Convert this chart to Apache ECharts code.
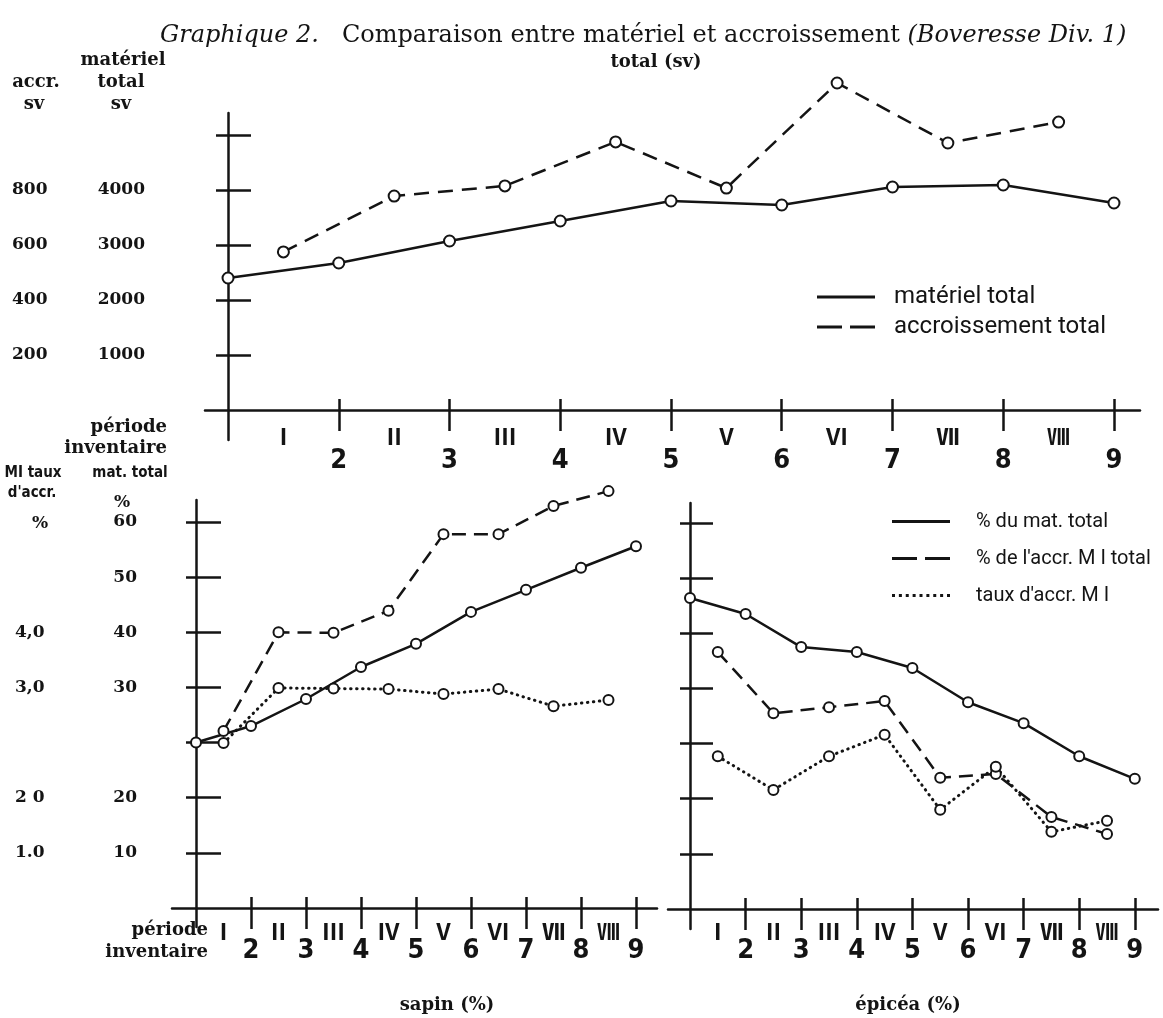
<!DOCTYPE html>
<html><head><meta charset="utf-8">
<script src="https://cdn.jsdelivr.net/npm/echarts@6/dist/echarts.min.js"></script>
<style>html,body{margin:0;padding:0;background:#fff}#c{width:1163px;height:1018px}</style>
</head><body><div id="c"></div>
<script>
// ---------------- data ----------------
const periods = [1, 2, 3, 4, 5, 6, 7, 8, 9];
const periodLabels = ['1', '2', '3', '4', '5', '6', '7', '8', '9'];
const romanPositions = [1.5, 2.5, 3.5, 4.5, 5.5, 6.5, 7.5, 8.5];
const romanLabels = ['Ⅰ', 'Ⅱ', 'Ⅲ', 'Ⅳ', 'Ⅴ', 'Ⅵ', 'Ⅶ', 'Ⅷ'];
const labelledPeriods = [2, 3, 4, 5, 6, 7, 8, 9];

// top chart (sv)
const materielTotal = [2400, 2673, 3073, 3436, 3800, 3727, 4055, 4091, 3764];
const accroissementTotal = [575, 778, 815, 975, 807, 1189, 971, 1047];
const topMatTicks = [1000, 2000, 3000, 4000, 5000];
const topMatLabelValues = [1000, 2000, 3000, 4000];
const topMatLabels = ['1000', '2000', '3000', '4000'];
const topAccrTicks = [200, 400, 600, 800, 1000];
const topAccrLabelValues = [200, 400, 600, 800];
const topAccrLabels = ['200', '400', '600', '800'];

// sapin (%)
const sapinMat = [20.0, 23.0, 27.9, 33.7, 37.9, 43.7, 47.7, 51.7, 55.6];
const sapinAccrMI = [22.1, 40.0, 39.9, 43.9, 57.8, 57.8, 62.9, 65.6];
const sapinTaux = [1.99, 2.99, 2.98, 2.97, 2.88, 2.97, 2.66, 2.77];
// épicéa (%)
const epiceaMat = [46.4, 43.5, 37.5, 36.6, 33.7, 27.5, 23.7, 17.7, 13.6];
const epiceaAccrMI = [36.6, 25.5, 26.6, 27.7, 13.8, 14.5, 6.7, 3.6];
const epiceaTaux = [1.77, 1.16, 1.77, 2.16, 0.80, 1.58, 0.40, 0.60];

// bottom axes (printed tick labels)
const pctTicks = [0, 10, 20, 30, 40, 50, 60];
const pctTickLabels = ['10', '20', '', '30', '40', '50', '60'];
const tauxTicks = [0, 1, 2, 3, 4, 5, 6];
const tauxTickLabels = ['1.0', '2 0', '', '3,0', '4,0', '', ''];

// ---------------- styling ----------------
const BLACK = '#141414';
const LW = 2.5;
const numFont = {fontFamily: '"DejaVu Serif", serif', fontWeight: 'bold', fontSize: 17, color: BLACK};
const arabicFont = {fontFamily: '"Liberation Sans Narrow", "DejaVu Sans Condensed", sans-serif', fontWeight: 'bold', fontSize: 27, color: BLACK};
const romanFont = {fontFamily: '"Noto Sans CJK JP", "Noto Sans CJK SC", "DejaVu Serif", serif', fontWeight: 'bold', fontSize: 23, color: BLACK};
const tickLine = {color: BLACK, width: LW};

function xPair(grid, min, max, offset, lenOut, lenIn, arabicMargin, romanMargin) {
  return [
    {gridIndex: grid, type: 'value', min, max, position: 'bottom', offset,
      axisLine: {show: true, onZero: false, lineStyle: tickLine},
      axisTick: {show: true, length: lenOut, customValues: labelledPeriods, lineStyle: tickLine},
      axisLabel: {show: true, customValues: labelledPeriods, margin: arabicMargin, verticalAlign: 'middle',
        formatter: v => periodLabels[periods.indexOf(v)], ...arabicFont},
      splitLine: {show: false}},
    {gridIndex: grid, type: 'value', min, max, position: 'bottom', offset,
      axisLine: {show: false, onZero: false},
      axisTick: {show: true, inside: true, length: lenIn, customValues: labelledPeriods, lineStyle: tickLine},
      axisLabel: {show: true, customValues: romanPositions, margin: romanMargin, verticalAlign: 'middle',
        formatter: v => romanLabels[romanPositions.indexOf(v)], ...romanFont},
      splitLine: {show: false}}
  ];
}

function yPair(grid, min, max, k, offset, lenOut, lenIn, aTicks, aLabelVals, aLabel, aMargin, bTicks, bLabelVals, bLabel, bMargin) {
  return [
    {gridIndex: grid, type: 'value', min, max, position: 'left', offset,
      axisLine: {show: true, onZero: false, lineStyle: tickLine},
      axisTick: {show: true, length: lenOut, customValues: aTicks, lineStyle: tickLine},
      axisLabel: {show: !!aLabel, customValues: aLabelVals, margin: aMargin, align: 'right', formatter: aLabel || (() => ''), ...numFont},
      splitLine: {show: false}},
    {gridIndex: grid, type: 'value', min: min / k, max: max / k, position: 'left', offset,
      axisLine: {show: false, onZero: false},
      axisTick: {show: true, inside: true, length: lenIn, customValues: bTicks, lineStyle: tickLine},
      axisLabel: {show: !!bLabel, customValues: bLabelVals, margin: bMargin, align: 'left', formatter: bLabel || (() => ''), ...numFont},
      splitLine: {show: false}}
  ];
}

function line(name, xi, yi, xs, ys, type, size, extra) {
  return Object.assign({
    type: 'line', name, xAxisIndex: xi, yAxisIndex: yi,
    data: xs.map((x, i) => [x, ys[i]]),
    symbol: 'circle', symbolSize: size, clip: false, silent: true, z: 5,
    lineStyle: {color: BLACK, width: LW, type},
    itemStyle: {color: '#fff', borderColor: BLACK, borderWidth: 2},
    emphasis: {disabled: true}
  }, extra || {});
}

const DASH_TOP = [15, 9];
const DASH_BOT = [14, 8];
const DOT = [0.5, 5.5];
const dotted = {lineStyle: {color: BLACK, width: 3, type: DOT, cap: 'round'}};

const pctLabel = v => pctTickLabels[pctTicks.indexOf(Math.round(v))];
const tauxLabel = v => tauxTickLabels[tauxTicks.indexOf(Math.round(v))];

// legend icons
const solidIcon = 'path://M0,0h58v3h-58z';
const dashIcon = 'path://M0,0h25v3h-25zM33,0h25v3h-25z';
let dotPath = 'path://';
for (let i = 0; i < 9; i++) dotPath += 'M' + (i * 6.875) + ',0h3v3h-3z';
const dotIcon = dotPath;

const legendText = {fontFamily: 'Roboto, "DejaVu Sans Condensed", sans-serif', color: BLACK};

const xAxes = [
  ...xPair(0, 0.792, 9.235, -30, 21, 11, 51, 26),
  ...xPair(1, 0.5636, 9.382, -19, 21, 11, 43, 23),
  ...xPair(2, 0.6043, 9.417, -20, 21, 11, 42, 22)
];
const yAxes = [
  ...yPair(0, -545, 5400, 5, -23, 12, 23,
    topMatTicks, topMatLabelValues, v => topMatLabels[topMatLabelValues.indexOf(v)], 83,
    topAccrTicks, topAccrLabelValues, v => topAccrLabels[topAccrLabelValues.indexOf(v)], 216),
  ...yPair(1, -13.45, 63.99, 10, -24, 10, 25,
    pctTicks, pctTicks, pctLabel, 59,
    tauxTicks, tauxTicks, tauxLabel, 181),
  ...yPair(2, -13.63, 63.63, 10, -22, 10, 23,
    pctTicks, [], null, 0,
    tauxTicks, [], null, 0)
];

function txt(text, x, y, font, align, extra) {
  return Object.assign({type: 'text', silent: true, style: {text, x, y, font, fill: BLACK,
    textAlign: align || 'center', textVerticalAlign: 'middle'}}, extra || {});
}
const serifB = 'bold 18px "DejaVu Serif", serif';
const condB = 'bold 15px "DejaVu Sans Condensed", sans-serif';

const option = {
  backgroundColor: '#fff',
  animation: false,
  title: {
    text: '{i|Graphique 2.}   Comparaison entre matériel et accroissement {i|(Boveresse Div. 1)}',
    left: 155, top: 19,
    textStyle: {fontFamily: '"DejaVu Serif", serif', fontSize: 24, fontWeight: 'normal', color: BLACK,
      rich: {i: {fontFamily: '"DejaVu Serif", serif', fontStyle: 'italic', fontSize: 24, color: BLACK}}}
  },
  grid: [
    {left: 205, top: 113, width: 935, height: 327},
    {left: 172, top: 500, width: 485, height: 427},
    {left: 668, top: 503, width: 490, height: 426}
  ],
  xAxis: xAxes,
  yAxis: yAxes,
  legend: [
    {orient: 'vertical', left: 812, top: 277, itemWidth: 58, itemHeight: 3, itemGap: 0, selectedMode: false,
      itemStyle: {color: BLACK, borderWidth: 0},
      textStyle: Object.assign({fontSize: 24, lineHeight: 30, padding: [0, 0, 0, 14]}, legendText),
      data: [{name: 'matériel total', icon: solidIcon}, {name: 'accroissement total', icon: dashIcon}]},
    {orient: 'vertical', left: 887, top: 498, itemWidth: 58, itemHeight: 3, itemGap: 0, selectedMode: false,
      itemStyle: {color: BLACK, borderWidth: 0},
      textStyle: Object.assign({fontSize: 20, lineHeight: 37, padding: [0, 0, 0, 21]}, legendText),
      data: [{name: '% du mat. total', icon: solidIcon}, {name: "% de l'accr. M I total", icon: dashIcon},
        {name: "taux d'accr. M I", icon: dotIcon}]}
  ],
  series: [
    line('matériel total', 0, 0, periods, materielTotal, 'solid', 11),
    line('accroissement total', 1, 1, romanPositions, accroissementTotal, DASH_TOP, 11),
    line('% du mat. total', 2, 2, periods, sapinMat, 'solid', 10),
    line("% de l'accr. M I total", 3, 2, romanPositions, sapinAccrMI, DASH_BOT, 10),
    line("taux d'accr. M I", 3, 3, romanPositions, sapinTaux, DOT, 10, dotted),
    line('% du mat. total', 4, 4, periods, epiceaMat, 'solid', 10),
    line("% de l'accr. M I total", 5, 4, romanPositions, epiceaAccrMI, DASH_BOT, 10),
    line("taux d'accr. M I", 5, 5, romanPositions, epiceaTaux, DOT, 10, dotted)
  ],
  graphic: [
    txt('matériel', 123, 60, serifB),
    txt('accr.', 36, 82, serifB),
    txt('total', 121, 82, serifB),
    txt('sv', 34, 104, serifB),
    txt('sv', 121, 104, serifB),
    txt('total (sv)', 656, 62, serifB),
    txt('période', 167, 427, serifB, 'right'),
    txt('inventaire', 167, 448, serifB, 'right'),
    txt('MI taux', 33, 473, condB),
    txt("d'accr.", 32, 493, condB),
    txt('%', 40, 524, 'bold 17px "DejaVu Serif", serif'),
    txt('mat. total', 130, 473, condB),
    txt('%', 122, 503, 'bold 17px "DejaVu Serif", serif'),
    txt('période', 208, 930, serifB, 'right'),
    txt('inventaire', 208, 952, serifB, 'right'),
    txt('sapin (%)', 447, 1005, serifB),
    txt('épicéa (%)', 908, 1005, serifB)
  ]
};

const chart = echarts.init(document.getElementById('c'), null, {renderer: 'canvas'});
chart.setOption(option);
</script>
</body></html>
